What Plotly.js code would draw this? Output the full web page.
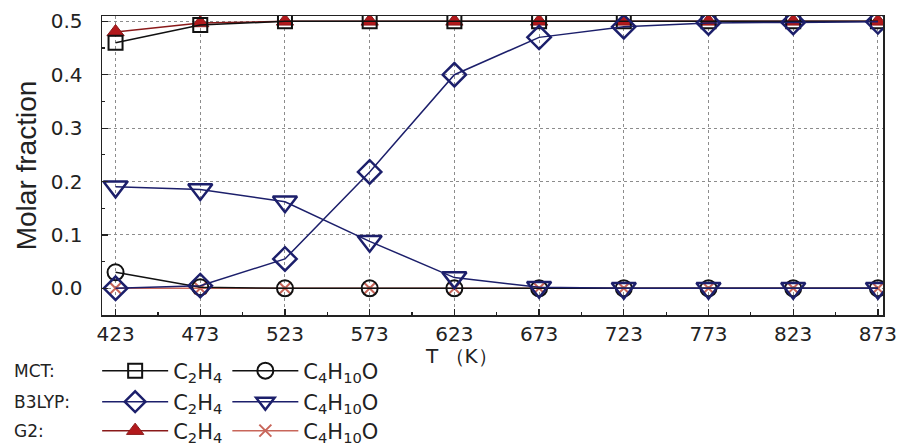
<!DOCTYPE html>
<html>
<head>
<meta charset="utf-8">
<script src="https://cdn.plot.ly/plotly-3.0.1.min.js"></script>
<style>html,body{margin:0;padding:0;background:#fff;}#chart{width:908px;height:446px;}</style>
</head>
<body>
<div id="chart"></div>
<script>
const temperatures = [423, 473, 523, 573, 623, 673, 723, 773, 823, 873];
const mctC2H4 = [0.46, 0.493, 0.5, 0.5, 0.5, 0.5, 0.5, 0.5, 0.5, 0.5];
const mctC4H10O = [0.03, 0.002, 0, 0, 0, 0, 0, 0, 0, 0];
const b3lypC2H4 = [0.0, 0.005, 0.055, 0.218, 0.4, 0.47, 0.49, 0.497, 0.498, 0.499];
const b3lypC4H10O = [0.19, 0.185, 0.162, 0.088, 0.02, 0.002, 0.0, 0.0, 0.0, 0.0];
const g2C2H4 = [0.48, 0.497, 0.5, 0.5, 0.5, 0.5, 0.5, 0.5, 0.5, 0.5];
const g2C4H10O = [0, 0, 0, 0, 0, 0, 0, 0, 0, 0];
const xTicks = [423, 473, 523, 573, 623, 673, 723, 773, 823, 873];
const yTicks = [0.0, 0.1, 0.2, 0.3, 0.4, 0.5];
const yTickText = ['0.0', '0.1', '0.2', '0.3', '0.4', '0.5'];
const nameC2H4 = 'C<sub>2</sub>H<sub>4</sub>';
const nameC4H10O = 'C<sub>4</sub>H<sub>10</sub>O';
const methodLabels = ['MCT:', 'B3LYP:', 'G2:'];

const navy = '#1c1f6b';
const red = '#b3191c';
const lightRed = '#c8665a';

const traces = [
  {x: temperatures, y: g2C4H10O, name: nameC4H10O, legend: 'legend3', legendrank: 2,
   mode: 'lines+markers', line: {color: lightRed, width: 1.5},
   marker: {symbol: 'x-thin-open', size: 12, line: {color: lightRed, width: 2}}},
  {x: temperatures, y: g2C2H4, name: nameC2H4, legend: 'legend3', legendrank: 1,
   mode: 'lines+markers', line: {color: '#8a1a1a', width: 1.5},
   marker: {symbol: 'triangle-up', size: 15, color: red, line: {color: '#8a1a1a', width: 1}}},
  {x: temperatures, y: mctC4H10O, name: nameC4H10O, legend: 'legend', legendrank: 2,
   mode: 'lines+markers', line: {color: '#111', width: 1.5},
   marker: {symbol: 'circle', size: 16, color: 'rgba(0,0,0,0)', line: {color: '#111', width: 2}}},
  {x: temperatures, y: mctC2H4, name: nameC2H4, legend: 'legend', legendrank: 1,
   mode: 'lines+markers', line: {color: '#111', width: 1.5},
   marker: {symbol: 'square', size: 14, color: 'rgba(0,0,0,0)', line: {color: '#111', width: 2}}},
  {x: temperatures, y: b3lypC4H10O, name: nameC4H10O, legend: 'legend2', legendrank: 2,
   mode: 'lines+markers', line: {color: navy, width: 1.5},
   marker: {symbol: 'triangle-down', size: 21, color: 'rgba(0,0,0,0)', line: {color: navy, width: 2.5}}},
  {x: temperatures, y: b3lypC2H4, name: nameC2H4, legend: 'legend2', legendrank: 1,
   mode: 'lines+markers', line: {color: navy, width: 1.5},
   marker: {symbol: 'diamond', size: 18, color: 'rgba(0,0,0,0)', line: {color: navy, width: 2.5}}}
];

const legendFont = {family: 'DejaVu Sans, sans-serif', size: 21, color: '#222'};
function legendAt(yPx) {
  return {
    orientation: 'h', xref: 'container', yref: 'container',
    x: 0.107, y: 1 - yPx / 446, xanchor: 'left', yanchor: 'middle',
    font: legendFont, bgcolor: 'rgba(0,0,0,0)', borderwidth: 0,
    itemwidth: 66,
    itemclick: false, traceorder: 'normal', tracegroupgap: 0
  };
}
const rowY = [371, 402, 431];
function paperY(yPx) { return (315 - yPx) / 299; }

const labelFont = {family: 'DejaVu Sans, sans-serif', size: 17, color: '#222'};
const layout = {
  width: 908, height: 446,
  margin: {l: 102, r: 25, t: 16, b: 131},
  paper_bgcolor: '#ffffff', plot_bgcolor: '#ffffff',
  showlegend: true,
  legend: legendAt(rowY[0]),
  legend2: legendAt(rowY[1]),
  legend3: legendAt(rowY[2]),
  xaxis: {
    range: [415, 876], tickvals: xTicks, ticktext: xTicks.map(String),
    ticks: 'inside', ticklen: 6, tickwidth: 1.2, tickcolor: '#222',
    minor: {dtick: 25, tick0: 398, ticks: 'inside', ticklen: 3, tickcolor: '#222', showgrid: false},
    showline: true, linecolor: '#222', linewidth: 1.5, mirror: true,
    showgrid: true, gridcolor: '#8c8c8c', griddash: 'dot', gridwidth: 1,
    zeroline: false,
    tickfont: {family: 'DejaVu Sans, sans-serif', size: 20, color: '#222'}
  },
  yaxis: {
    range: [-0.05, 0.51], tickvals: yTicks, ticktext: yTickText,
    ticks: 'inside', ticklen: 6, tickwidth: 1.2, tickcolor: '#222',
    ticklabelstandoff: 14,
    minor: {dtick: 0.05, tick0: 0, ticks: 'inside', ticklen: 3, tickcolor: '#222', showgrid: false},
    showline: true, linecolor: '#222', linewidth: 1.5, mirror: true,
    showgrid: true, gridcolor: '#8c8c8c', griddash: 'dot', gridwidth: 1,
    zeroline: false,
    tickfont: {family: 'DejaVu Sans, sans-serif', size: 20, color: '#222'},
    title: {text: 'Molar fraction', standoff: 6,
            font: {family: 'Liberation Sans, Arial, sans-serif', size: 28, color: '#222'}}
  },
  annotations: [
    {text: 'T （K）', xref: 'paper', yref: 'paper', x: 0.46, y: paperY(356), xanchor: 'center', yanchor: 'middle',
     showarrow: false, font: {family: 'DejaVu Sans, sans-serif', size: 20, color: '#222'}}
  ].concat(methodLabels.map((t, i) => ({
    text: t, xref: 'paper', yref: 'paper', x: -0.115, y: paperY(rowY[i]), xanchor: 'left', yanchor: 'middle',
    showarrow: false, font: labelFont
  })))
};

Plotly.newPlot('chart', traces, layout, {displayModeBar: false, staticPlot: true});
</script>
</body>
</html>
